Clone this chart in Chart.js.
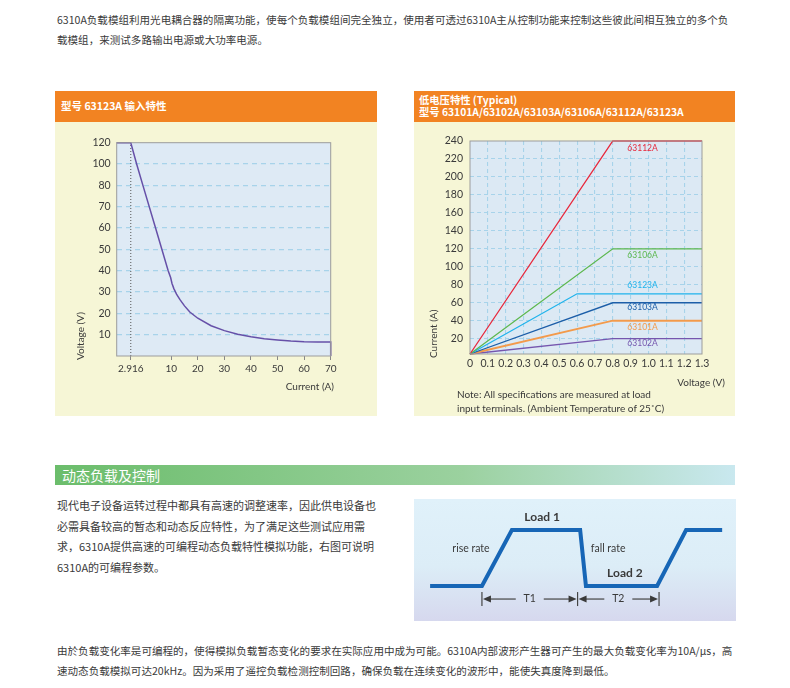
<!DOCTYPE html>
<html>
<head>
<meta charset="utf-8">
<script src="https://cdn.jsdelivr.net/npm/chart.js@4/dist/chart.umd.min.js"></script>
<style>
body { margin: 0; width: 790px; height: 688px; position: relative; background: #fff; overflow: hidden;
       font-family: "Noto Sans CJK SC", sans-serif; color: #3a3a3a; }
.txt { position: absolute; left: 57px; font-size: 10.56px; line-height: 20px; white-space: nowrap; }
.panel { position: absolute; top: 91px; height: 325px; background: #f6f6d6; }
.head { position: absolute; left: 0; top: 0; right: 0; height: 31px; background: #f28322; color: #fff;
        font-weight: bold; font-size: 10.5px; box-sizing: border-box; }
.panel canvas { position: absolute; left: 0; top: 31px; }
#note { position: absolute; left: 457px; top: 387px; font-family: Lato, sans-serif; font-size: 10px; line-height: 14px; white-space: nowrap; }
#bar { position: absolute; left: 55px; top: 465px; width: 680px; height: 20px;
       background: linear-gradient(to right, #6bbd6b, #9bd19f 60%, #c9e8ef); color: #fff; font-size: 14px; line-height: 20px; }
#bar span { margin-left: 7px; }
#wavebox { position: absolute; left: 414px; top: 499px; width: 322px; height: 122px;
           background: linear-gradient(to bottom, #e0f1fa, #dcedf7 55%, #d6d8ee); }
#wavebox canvas { position: absolute; left: 0; top: 0; }
</style>
</head>
<body>

<div class="txt" style="top:10px">6310A负载模组利用光电耦合器的隔离功能，使每个负载模组间完全独立，使用者可透过6310A主从控制功能来控制这些彼此间相互独立的多个负<br>载模组，来测试多路输出电源或大功率电源。</div>

<div class="panel" style="left:55px;width:322px">
  <div class="head" style="padding:5px 0 0 6px;line-height:20px">型号 63123A 输入特性</div>
  <canvas id="inputChart" width="322" height="294"></canvas>
</div>

<div class="panel" style="left:414px;width:321px">
  <div class="head" style="padding:3px 0 0 5px;line-height:11.5px;font-size:10.3px">低电压特性 (Typical)<br>型号 63101A/63102A/63103A/63106A/63112A/63123A</div>
  <canvas id="lowVoltChart" width="321" height="294"></canvas>
</div>
<div id="note">Note: All specifications are measured at load<br>input terminals. (Ambient Temperature of 25˚C)</div>

<div id="bar"><span>动态负载及控制</span></div>

<div class="txt" style="top:495px;font-size:11px;line-height:20.5px">现代电子设备运转过程中都具有高速的调整速率，因此供电设备也<br>必需具备较高的暂态和动态反应特性，为了满足这些测试应用需<br>求，6310A提供高速的可编程动态负载特性模拟功能，右图可说明<br>6310A的可编程参数。</div>

<div id="wavebox"><canvas id="waveChart" width="322" height="122"></canvas></div>

<div class="txt" style="top:641px">由於负载变化率是可编程的，使得模拟负载暂态变化的要求在实际应用中成为可能。6310A内部波形产生器可产生的最大负载变化率为10A/μs，高<br>速动态负载模拟可达20kHz。因为采用了遥控负载检测控制回路，确保负载在连续变化的波形中，能使失真度降到最低。</div>

<script>
// 63123A input characteristic
const inCurrent = [0, 2.916, 3.94, 5.04, 7.26, 9.47, 9.9, 10.3, 11, 12, 13.3, 15, 17, 20, 25, 30, 35, 40, 45, 50, 55, 60, 65, 70, 70];
const inVoltage = [120, 120, 100, 80, 60, 40, 36.8, 34, 31.6, 29, 26.4, 23.5, 20.6, 17.7, 14.2, 11.9, 10.2, 9, 8.1, 7.5, 7, 6.7, 6.6, 6.6, 0];
const kneeCurrent = 2.916;

// the axes of that chart are not linear: tick labels sit at fixed slots
const xTickValues = [0, 2.916, 10, 20, 30, 40, 50, 60, 70];
const xTickSlots = [0, 0.53, 2.05, 3.05, 4.05, 5.05, 6.05, 7.05, 8.05];
const yTickValues = [0, 10, 20, 30, 40, 50, 60, 70, 80, 100, 120];

// low voltage characteristic, one polyline per model
const models = ['63112A', '63106A', '63123A', '63103A', '63101A', '63102A'];
const modelColors = ['#e8283c', '#5cb84e', '#1fb3ec', '#1c5ea8', '#f39a4b', '#7556ae'];
const lvVoltage = [[0, 0.8, 1.3], [0, 0.8, 1.3], [0, 0.6, 1.3], [0, 0.8, 1.3], [0, 0.8, 1.3], [0, 0.8, 1.3]];
const lvCurrent = [[3, 240, 240], [3, 120, 120], [3, 70, 70], [3, 60, 60], [3, 40, 40], [3, 20, 20]];
const lvLabelV = 0.967;
const lvLabelA = [232, 113, 79, 55, 33, 15];
const lvXTicks = [0, 0.1, 0.2, 0.3, 0.4, 0.5, 0.6, 0.7, 0.8, 0.9, 1.0, 1.1, 1.2, 1.3];
const lvYTicks = [20, 40, 60, 80, 100, 120, 140, 160, 180, 200, 220, 240];

// dynamic load waveform (arbitrary time / level units)
const waveTime = [5, 21.1, 30.4, 51.6, 53.4, 75.5, 84.5, 95.7];
const waveLevel = [28.7, 28.7, 74.6, 74.6, 28.7, 28.7, 74.6, 74.6];
const periodMarks = [21.1, 50.8, 76.1];
const periodNames = ['T1', 'T2'];

Chart.defaults.font.family = 'Lato, "Noto Sans", sans-serif';
Chart.defaults.font.size = 10;
Chart.defaults.color = '#3a3a3a';
Chart.defaults.animation = false;

function slot(v, from, to) {
    for (let i = 1; i < from.length; i++) {
        if (v <= from[i]) {
            const f = (v - from[i - 1]) / (from[i] - from[i - 1]);
            return to[i - 1] + f * (to[i] - to[i - 1]);
        }
    }
    return to[to.length - 1];
}
const ySlots = yTickValues.map((v, i) => i);
const toX = v => slot(v, xTickValues, xTickSlots);
const toY = v => slot(v, yTickValues, ySlots);

const gridBlue = '#a7d3ea';

function plotFrame(bg) {
    return {
        id: 'frame',
        beforeDraw(chart) {
            const a = chart.chartArea, ctx = chart.ctx;
            ctx.save();
            ctx.fillStyle = bg;
            ctx.fillRect(a.left, a.top, a.right - a.left, a.bottom - a.top);
            ctx.restore();
        },
        afterDraw(chart) {
            const a = chart.chartArea, ctx = chart.ctx;
            ctx.save();
            ctx.strokeStyle = '#9c9c9c';
            ctx.lineWidth = 1;
            ctx.strokeRect(a.left, a.top, a.right - a.left, a.bottom - a.top);
            ctx.restore();
        }
    };
}

function axisTitles(yTitle, yx, yBottom, xTitle, xRight, xy) {
    return {
        id: 'titles',
        afterDraw(chart) {
            const ctx = chart.ctx;
            ctx.save();
            ctx.fillStyle = '#3a3a3a';
            ctx.font = '10px Lato, sans-serif';
            ctx.textBaseline = 'middle';
            ctx.textAlign = 'right';
            ctx.fillText(xTitle, xRight, xy);
            ctx.translate(yx, yBottom);
            ctx.rotate(-Math.PI / 2);
            ctx.textAlign = 'left';
            ctx.fillText(yTitle, 0, 0);
            ctx.restore();
        }
    };
}

// 63123A input chart
new Chart(document.getElementById('inputChart'), {
    type: 'line',
    data: {
        datasets: [{
            data: inCurrent.map((c, i) => ({ x: toX(c), y: toY(inVoltage[i]) })),
            borderColor: '#6650a8',
            borderWidth: 1.5,
            pointRadius: 0,
            tension: 0,
            clip: false
        }, {
            data: [{ x: toX(kneeCurrent), y: 0 }, { x: toX(kneeCurrent), y: toY(120) }],
            borderColor: '#555',
            borderWidth: 1,
            borderDash: [1, 2],
            pointRadius: 0
        }]
    },
    options: {
        responsive: false,
        layout: { padding: { top: 20.7, right: 46.3, left: 0, bottom: 0 } },
        plugins: { legend: { display: false }, tooltip: { enabled: false } },
        scales: {
            x: {
                type: 'linear', min: 0, max: xTickSlots[xTickSlots.length - 1],
                afterBuildTicks: s => { s.ticks = xTickSlots.slice(1).map(v => ({ value: v })); },
                afterFit: s => { s.height = 60; },
                ticks: { autoSkip: false, maxRotation: 0, padding: 3,
                         callback: (v, i) => String(xTickValues[i + 1]) },
                grid: { drawOnChartArea: false, drawTicks: true, tickLength: 4, color: '#888' },
                border: { display: false }
            },
            y: {
                type: 'linear', min: 0, max: ySlots.length - 1,
                afterBuildTicks: s => { s.ticks = ySlots.map(v => ({ value: v })); },
                afterFit: s => { s.width = 61.7; },
                ticks: { autoSkip: false, padding: 6, font: { size: 10.5 },
                         callback: (v, i) => i === 0 ? '' : String(yTickValues[i]) },
                grid: { drawTicks: false, lineWidth: 1.2,
                        color: c => (c.index === 0 || c.index === ySlots.length - 1) ? 'transparent' : gridBlue },
                border: { display: false, dash: [5, 4] }
            }
        }
    },
    plugins: [plotFrame('#deeaf5'), axisTitles('Voltage (V)', 26, 238, 'Current (A)', 279, 265)]
});

// low voltage chart
const lineLabels = {
    id: 'lineLabels',
    afterDatasetsDraw(chart) {
        const ctx = chart.ctx, xs = chart.scales.x, ys = chart.scales.y;
        ctx.save();
        ctx.font = '8.5px Lato, sans-serif';
        ctx.textAlign = 'center';
        ctx.textBaseline = 'middle';
        models.forEach((m, i) => {
            ctx.fillStyle = modelColors[i];
            ctx.fillText(m, xs.getPixelForValue(lvLabelV), ys.getPixelForValue(lvLabelA[i]));
        });
        ctx.restore();
    }
};

new Chart(document.getElementById('lowVoltChart'), {
    type: 'line',
    data: {
        datasets: models.map((m, i) => ({
            label: m,
            data: lvVoltage[i].map((v, j) => ({ x: v, y: lvCurrent[i][j] })),
            borderColor: modelColors[i],
            borderWidth: m === '63101A' ? 1.8 : 1.3,
            pointRadius: 0,
            tension: 0,
            clip: false
        }))
    },
    options: {
        responsive: false,
        layout: { padding: { top: 19, right: 33, left: 0, bottom: 0 } },
        plugins: { legend: { display: false }, tooltip: { enabled: false } },
        scales: {
            x: {
                type: 'linear', min: 0, max: 1.3,
                afterBuildTicks: s => { s.ticks = lvXTicks.map(v => ({ value: v })); },
                afterFit: s => { s.height = 62; },
                ticks: { autoSkip: false, maxRotation: 0, padding: 3, font: { size: 10.5 },
                         callback: (v, i) => i === 0 ? '0' : lvXTicks[i].toFixed(1) },
                grid: { drawTicks: false, lineWidth: 1.1,
                        color: c => (c.index === 0 || c.index === lvXTicks.length - 1) ? 'transparent' : gridBlue },
                border: { display: false, dash: [4, 3] }
            },
            y: {
                type: 'linear', min: 3, max: 240,
                afterBuildTicks: s => { s.ticks = lvYTicks.map(v => ({ value: v })); },
                afterFit: s => { s.width = 56; },
                ticks: { autoSkip: false, padding: 7, font: { size: 10.5 } },
                grid: { drawTicks: false, lineWidth: 1.1,
                        color: c => c.index === lvYTicks.length - 1 ? 'transparent' : gridBlue },
                border: { display: false, dash: [4, 3] }
            }
        }
    },
    plugins: [plotFrame('#dce9f4'), lineLabels, axisTitles('Current (A)', 20, 236, 'Voltage (V)', 311, 261)]
});

// waveform diagram
const waveNotes = {
    id: 'waveNotes',
    afterDatasetsDraw(chart) {
        const ctx = chart.ctx, xs = chart.scales.x, ys = chart.scales.y;
        const px = v => xs.getPixelForValue(v), py = v => ys.getPixelForValue(v);
        ctx.save();
        ctx.fillStyle = '#3a3a3a';
        ctx.textAlign = 'center';
        ctx.textBaseline = 'middle';
        ctx.font = 'bold 12px Lato, sans-serif';
        ctx.fillText('Load 1', px(39.8), py(85));
        ctx.fillText('Load 2', px(65.5), py(39));
        ctx.font = '10.5px Lato, sans-serif';
        ctx.fillText('rise rate', px(17.7), py(59));
        ctx.fillText('fall rate', px(60.3), py(59));

        // period arrows
        const rowY = py(18);
        ctx.strokeStyle = '#444';
        ctx.lineWidth = 1.2;
        periodMarks.forEach(t => {
            ctx.beginPath();
            ctx.moveTo(px(t), rowY - 7);
            ctx.lineTo(px(t), rowY + 7);
            ctx.stroke();
        });
        function arrow(fromX, toX) {
            const dir = Math.sign(toX - fromX);
            ctx.beginPath();
            ctx.moveTo(fromX, rowY);
            ctx.lineTo(toX - dir * 6, rowY);
            ctx.stroke();
            ctx.beginPath();
            ctx.moveTo(toX, rowY);
            ctx.lineTo(toX - dir * 8, rowY - 3.5);
            ctx.lineTo(toX - dir * 8, rowY + 3.5);
            ctx.closePath();
            ctx.fill();
        }
        ctx.font = '10.5px Lato, sans-serif';
        for (let i = 0; i < periodNames.length; i++) {
            const a = px(periodMarks[i]) + 1, b = px(periodMarks[i + 1]) - 1;
            const mid = (a + b) / 2;
            ctx.fillText(periodNames[i], mid, rowY);
            arrow(mid - 14, a);
            arrow(mid + 14, b);
        }
        ctx.restore();
    }
};

new Chart(document.getElementById('waveChart'), {
    type: 'line',
    data: {
        datasets: [{
            data: waveTime.map((t, i) => ({ x: t, y: waveLevel[i] })),
            borderColor: '#1766b6',
            borderWidth: 4,
            pointRadius: 0,
            tension: 0,
            borderJoinStyle: 'miter'
        }]
    },
    options: {
        responsive: false,
        layout: { padding: 0 },
        plugins: { legend: { display: false }, tooltip: { enabled: false } },
        scales: {
            x: { type: 'linear', min: 0, max: 100, display: false },
            y: { type: 'linear', min: 0, max: 100, display: false }
        }
    },
    plugins: [waveNotes]
});
</script>
</body>
</html>
